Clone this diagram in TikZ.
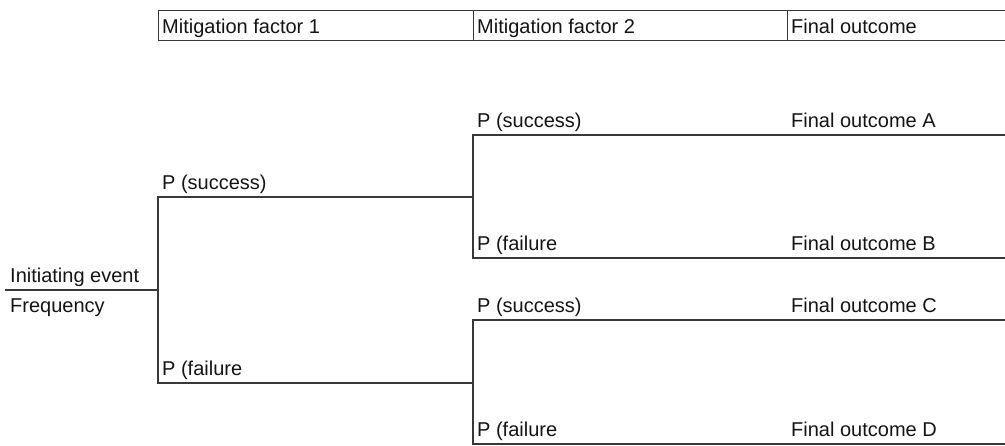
\documentclass[tikz,border=0pt]{standalone}
\usepackage{fontspec}
\setmainfont{Liberation Sans}
\begin{document}
\begin{tikzpicture}[x=1pt,y=-1pt,
  branch/.style={draw=black!78, line width=1.3pt},
  lbl/.style={anchor=base west, inner sep=0pt, font=\fontsize{20}{24}\selectfont, text=black!92},
  cell/.style={draw=black!78, line width=1.3pt, minimum height=30pt, inner sep=0pt, anchor=north west}]
\useasboundingbox (0,0) rectangle (1005,445);
\clip (0,0) rectangle (1005,445);

% header row
\node[cell, minimum width=315pt] (h1) at (158,10) {};
\node[cell, minimum width=314pt] (h2) at (473,10) {};
\node[cell, minimum width=240pt] (h3) at (787,10) {};
\node[lbl] (t1) at (162,33) {Mitigation factor 1};
\node[lbl] (t2) at (477,33) {Mitigation factor 2};
\node[lbl] (t3) at (791,33) {Final outcome};

% tree junctions and branch ends
\coordinate (ie) at (5,290);
\coordinate (j1) at (158,290);
\coordinate (s1) at (158,197);
\coordinate (s1e) at (473,197);
\coordinate (f1) at (158,383);
\coordinate (f1e) at (473,383);
\coordinate (sa) at (473,135);
\coordinate (sae) at (1005,135);
\coordinate (fb) at (473,258);
\coordinate (fbe) at (1005,258);
\coordinate (sc) at (473,320);
\coordinate (sce) at (1005,320);
\coordinate (fd) at (473,444);
\coordinate (fde) at (1005,444);

% branches
\draw[branch] (ie) -- (j1);
\draw[branch] (s1e) -- (s1) -- (f1) -- (f1e);
\draw[branch] (sae) -- (sa) -- (fb) -- (fbe);
\draw[branch] (sce) -- (sc) -- (fd) -- (fde);

% labels
\node[lbl] (ie1) at (10,282) {Initiating event};
\node[lbl] (ie2) at (10,312) {Frequency};
\node[lbl] (p1s) at (162,189.5) {P (success)};
\node[lbl] (p1f) at (162,375.5) {P (failure};
\node[lbl] (p2s) at (477,127.5) {P (success)};
\node[lbl] (p2f) at (477,250.5) {P (failure};
\node[lbl] (p3s) at (477,312.5) {P (success)};
\node[lbl] (p3f) at (477,436.5) {P (failure};
\node[lbl] (oa) at (791,127.5) {Final outcome A};
\node[lbl] (ob) at (791,250.5) {Final outcome B};
\node[lbl] (oc) at (791,312.5) {Final outcome C};
\node[lbl] (od) at (791,436.5) {Final outcome D};
\end{tikzpicture}
\end{document}
